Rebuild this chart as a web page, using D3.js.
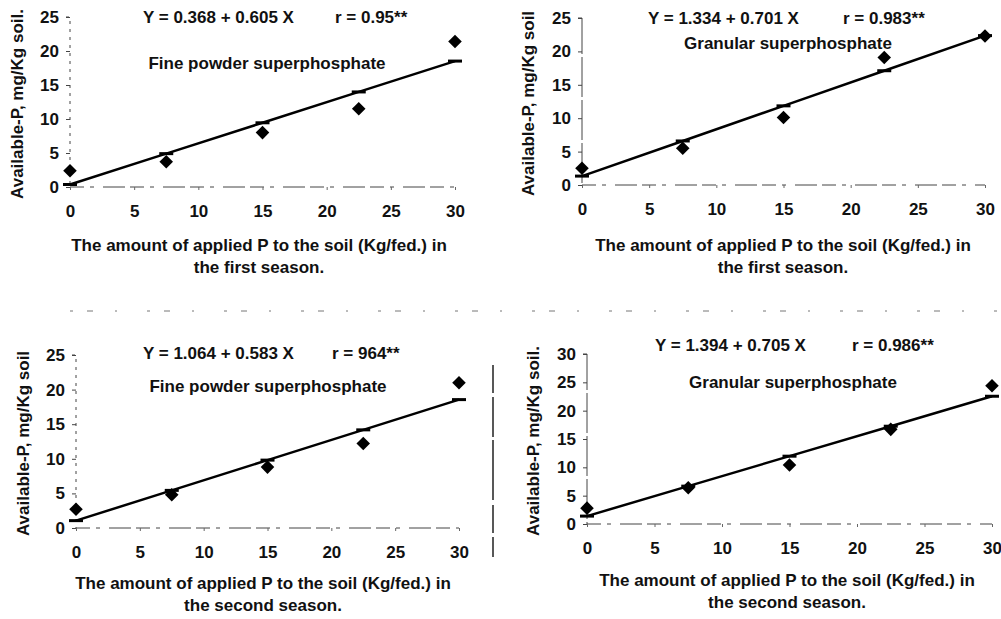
<!DOCTYPE html>
<html>
<head>
<meta charset="utf-8">
<script src="https://cdn.jsdelivr.net/npm/d3@7"></script>
<style>
  body { margin: 0; background: #fff; }
  svg { display: block; }
  text { font-family: "Liberation Sans", Arial, sans-serif; fill: #111; }
</style>
</head>
<body>
<svg id="chart" width="1001" height="619"></svg>
<script>
// Data
var pLevels = [0, 7.5, 15, 22.5, 30];

var fineFirst = [2.4, 3.7, 8.0, 11.5, 21.4];
var granFirst = [2.5, 5.5, 10.1, 19.1, 22.3];
var fineSecond = [2.7, 4.8, 8.8, 12.2, 21.0];
var granSecond = [2.8, 6.4, 10.4, 16.7, 24.4];

var intercepts = [0.368, 1.334, 1.064, 1.394];
var slopes = [0.605, 0.701, 0.583, 0.705];
var rLabels = ["r = 0.95**", "r = 0.983**", "r = 964**", "r = 0.986**"];
var equations = ["Y = 0.368 + 0.605 X", "Y = 1.334 + 0.701 X", "Y = 1.064 + 0.583 X", "Y = 1.394 + 0.705 X"];
var fertilizers = ["Fine powder superphosphate", "Granular superphosphate", "Fine powder superphosphate", "Granular superphosphate"];
var yTitles = ["Available-P, mg/Kg soil.", "Available-P, mg/Kg soil", "Available-P, mg/Kg soil", "Available-P, mg/Kg soil."];
var seasons = ["the first season.", "the first season.", "the second season.", "the second season."];
var xTicks = [0, 5, 10, 15, 20, 25, 30];
var yMax = [25, 25, 25, 30];

var observed = [fineFirst, granFirst, fineSecond, granSecond];

// layout of the four panels
var panels = [
    {x0: 70, x1: 455, y0: 187, y1: 17, ylab: 17, eqX: 143, rX: 335, eqY: 17, subX: 267, subY: 63, xl: 259, xlY: 245},
    {x0: 582, x1: 985, y0: 185, y1: 18, ylab: 528, eqX: 648, rX: 843, eqY: 18, subX: 788, subY: 43, xl: 783, xlY: 245},
    {x0: 76, x1: 459, y0: 528, y1: 355, ylab: 23, eqX: 143, rX: 332, eqY: 353, subX: 268, subY: 386, xl: 263, xlY: 583},
    {x0: 587, x1: 992, y0: 524, y1: 354, ylab: 533, eqX: 655, rX: 852, eqY: 345, subX: 793, subY: 382, xl: 787, xlY: 580}
];

var svg = d3.select("#chart");

// scan artifacts: broken separator and a stray vertical rule
svg.append("line")
    .attr("x1", 70).attr("x2", 1001)
    .attr("y1", 311).attr("y2", 311)
    .attr("stroke", "#777")
    .attr("stroke-width", 1)
    .attr("stroke-dasharray", "3,14,6,22,2,30");
svg.append("line")
    .attr("x1", 493).attr("x2", 493)
    .attr("y1", 365).attr("y2", 557)
    .attr("stroke", "#222")
    .attr("stroke-width", 1.5)
    .attr("stroke-dasharray", "28,4,40,3,60,5");

var lineFunction = d3.line()
    .x(function(d) { return d.x; })
    .y(function(d) { return d.y; });

panels.forEach(function(p, i) {
    var g = svg.append("g");
    var x = d3.scaleLinear().domain([0, 30]).range([p.x0, p.x1]);
    var y = d3.scaleLinear().domain([0, yMax[i]]).range([p.y0, p.y1]);

    // y axis
    var yAxis = d3.axisLeft(y).ticks(yMax[i] / 5).tickSize(4).tickPadding(7);
    var ya = g.append("g")
        .attr("transform", "translate(" + p.x0 + ",0)")
        .call(yAxis);
    ya.select(".domain")
        .attr("stroke", "#444")
        .attr("stroke-dasharray", i % 2 === 0 ? "3,5" : "40,3")
        .attr("d", "M-4," + y(yMax[i]) + "H0V" + p.y0);
    ya.selectAll(".tick line").attr("stroke", "#444");
    ya.selectAll("text")
        .style("font-size", "17px")
        .style("font-weight", "bold");

    // x axis
    var xAxis = d3.axisBottom(x).tickValues(xTicks).tickSize(3).tickPadding(15);
    var xa = g.append("g")
        .attr("transform", "translate(0," + p.y0 + ")")
        .call(xAxis);
    xa.select(".domain")
        .attr("stroke", "#444")
        .attr("stroke-dasharray", "14,6,4,9,22,5")
        .attr("d", "M" + p.x0 + ",0H" + p.x1);
    xa.selectAll(".tick line").attr("stroke", "#666");
    xa.selectAll("text")
        .style("font-size", "17px")
        .style("font-weight", "bold");

    // regression line and predicted markers
    var pred = pLevels.map(function(v) {
        return {x: x(v), y: y(intercepts[i] + slopes[i] * v)};
    });
    g.append("path")
        .attr("d", lineFunction(pred))
        .attr("stroke", "#000")
        .attr("stroke-width", 2.5)
        .attr("fill", "none");
    g.selectAll(".pred")
        .data(pred)
        .enter()
        .append("line")
        .attr("x1", function(d) { return d.x - 7; })
        .attr("x2", function(d) { return d.x + 7; })
        .attr("y1", function(d) { return d.y; })
        .attr("y2", function(d) { return d.y; })
        .attr("stroke", "#000")
        .attr("stroke-width", 3);

    // observed points
    var diamond = d3.symbol().type(d3.symbolSquare).size(92);
    g.selectAll(".obs")
        .data(observed[i])
        .enter()
        .append("path")
        .attr("d", diamond)
        .attr("fill", "#000")
        .attr("transform", function(d, j) {
            return "translate(" + x(pLevels[j]) + "," + y(d) + ") rotate(45)";
        });

    // texts
    g.append("text")
        .attr("transform", "translate(" + p.ylab + "," + ((p.y0 + p.y1) / 2 + 2) + ") rotate(-90)")
        .attr("text-anchor", "middle")
        .attr("dy", "0.35em")
        .style("font-size", "17px")
        .style("font-weight", "bold")
        .text(yTitles[i]);
    g.append("text")
        .attr("x", p.eqX).attr("y", p.eqY)
        .attr("dy", "0.35em")
        .style("font-size", "17px")
        .style("font-weight", "bold")
        .text(equations[i]);
    g.append("text")
        .attr("x", p.rX).attr("y", p.eqY)
        .attr("dy", "0.35em")
        .style("font-size", "17px")
        .style("font-weight", "bold")
        .text(rLabels[i]);
    g.append("text")
        .attr("x", p.subX).attr("y", p.subY)
        .attr("text-anchor", "middle")
        .attr("dy", "0.35em")
        .style("font-size", "17px")
        .style("font-weight", "bold")
        .text(fertilizers[i]);
    g.append("text")
        .attr("x", p.xl).attr("y", p.xlY)
        .attr("text-anchor", "middle")
        .attr("dy", "0.35em")
        .style("font-size", "17px")
        .style("font-weight", "bold")
        .text("The amount of applied P to the soil (Kg/fed.) in");
    g.append("text")
        .attr("x", p.xl).attr("y", p.xlY + 22)
        .attr("text-anchor", "middle")
        .attr("dy", "0.35em")
        .style("font-size", "17px")
        .style("font-weight", "bold")
        .text(seasons[i]);
});
</script>
</body>
</html>
